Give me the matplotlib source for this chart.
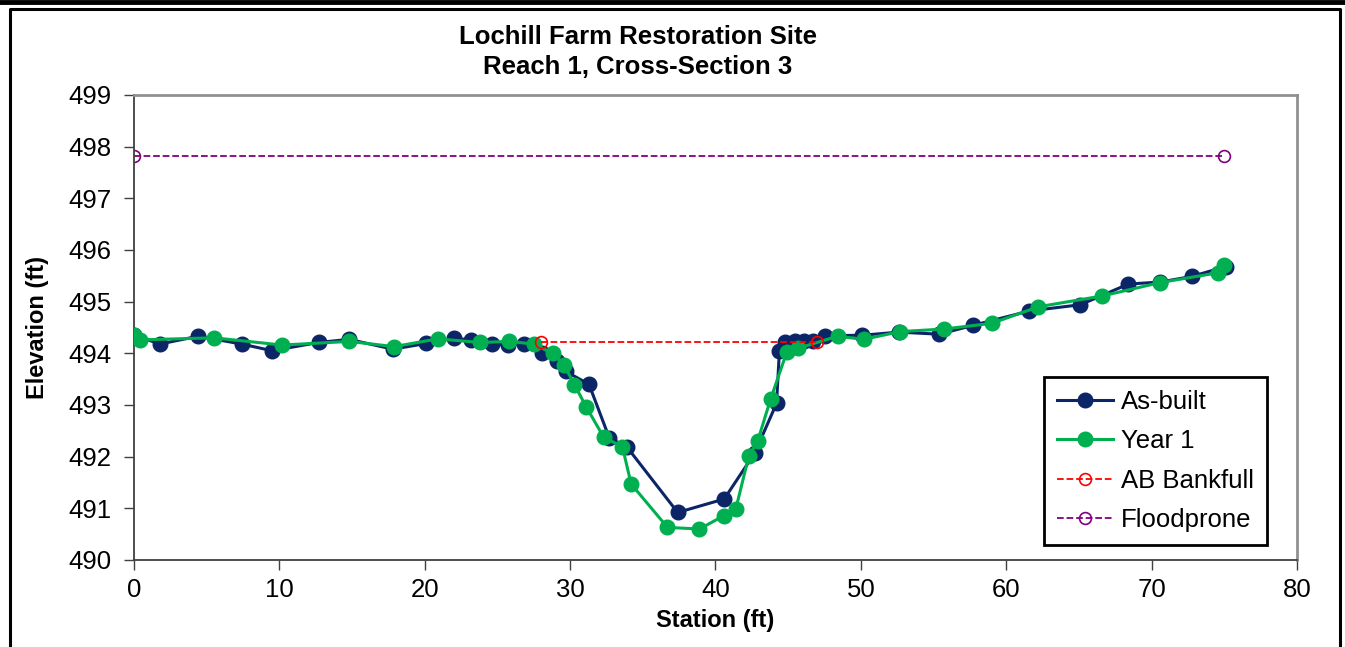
import matplotlib
matplotlib.use("Agg")
import matplotlib.pyplot as plt
from matplotlib.lines import Line2D

# --- Datos ---
est_asbuilt = [0.0, 1.8, 4.4, 7.4, 9.5, 12.7, 14.8, 17.8, 20.1, 22.0, 23.2, 24.6, 25.7,
               26.8, 28.1, 29.1, 29.7, 31.3, 32.7, 33.9, 37.4, 40.6, 42.7, 44.2, 44.4,
               44.8, 45.5, 46.1, 46.7, 47.5, 50.1, 52.6, 55.4, 57.7, 61.6, 65.1, 68.4,
               70.6, 72.8, 75.1]
elev_asbuilt = [494.35, 494.18, 494.33, 494.18, 494.05, 494.21, 494.27, 494.08, 494.19,
                494.29, 494.26, 494.18, 494.16, 494.18, 494.00, 493.86, 493.65, 493.40,
                492.36, 492.19, 490.92, 491.18, 492.07, 493.03, 494.05, 494.22, 494.24,
                494.24, 494.24, 494.34, 494.35, 494.41, 494.37, 494.54, 494.82, 494.94,
                495.34, 495.38, 495.49, 495.68]

est_year1 = [0.0, 0.4, 5.5, 10.2, 14.8, 17.9, 20.9, 23.8, 25.8, 27.5, 28.8, 29.6, 30.3,
             31.1, 32.3, 33.6, 34.2, 36.7, 38.9, 40.6, 41.4, 42.3, 42.9, 43.8, 44.9,
             45.7, 48.4, 50.2, 52.7, 55.7, 59.0, 62.2, 66.6, 70.6, 74.6, 75.0]
elev_year1 = [494.36, 494.26, 494.30, 494.16, 494.23, 494.13, 494.28, 494.21, 494.23,
              494.18, 494.00, 493.77, 493.39, 492.97, 492.38, 492.19, 491.47, 490.63,
              490.60, 490.86, 490.99, 492.02, 492.30, 493.12, 494.02, 494.10, 494.33,
              494.27, 494.42, 494.47, 494.58, 494.90, 495.11, 495.37, 495.56, 495.70]

est_bankfull = [28.0, 47.0]
elev_bankfull = [494.21, 494.21]

est_flood = [0.0, 75.0]
elev_flood = [497.82, 497.82]

plt.rcParams['font.family'] = ['Liberation Sans', 'DejaVu Sans']

fig = plt.figure(figsize=(13.45, 6.47), dpi=100)
ax = fig.add_axes([0.0996, 0.1345, 0.8647, 0.7187])

ax.plot(est_flood, elev_flood, '--o', color='#800080', lw=1.3, ms=8.5,
        mfc='none', mew=1.2, label='Floodprone', zorder=2)
ax.plot(est_asbuilt, elev_asbuilt, '-o', color='#0B2566', lw=2.2, ms=10.5,
        label='As-built', zorder=3)
ax.plot(est_year1, elev_year1, '-o', color='#00B050', lw=2.2, ms=10.5,
        label='Year 1', zorder=4)
ax.plot(est_bankfull, elev_bankfull, '--o', color='#FF0000', lw=1.3, ms=8.5,
        mfc='none', mew=1.2, label='AB Bankfull', zorder=5)

ax.set_xlim(0, 80)
ax.set_ylim(490, 499)
ax.set_xticks(range(0, 81, 10))
ax.set_yticks(range(490, 500))
ax.tick_params(direction='out', length=7, width=1, labelsize=18.5, color='#404040')
ax.tick_params(axis='y', pad=9)
ax.tick_params(axis='x', pad=6)

for s in ['left', 'bottom']:
    ax.spines[s].set_color('#404040')
    ax.spines[s].set_linewidth(1.3)
for s in ['top', 'right']:
    ax.spines[s].set_color('#909090')
    ax.spines[s].set_linewidth(2)

ax.set_xlabel('Station (ft)', fontsize=17, fontweight='bold', labelpad=5)
ax.set_ylabel('Elevation (ft)', fontsize=17, fontweight='bold', labelpad=14)

fig.text(0.474, 0.943, 'Lochill Farm Restoration Site', ha='center', va='center',
         fontsize=18.5, fontweight='bold')
fig.text(0.474, 0.897, 'Reach 1, Cross-Section 3', ha='center', va='center',
         fontsize=18.5, fontweight='bold')

handles, labels = ax.get_legend_handles_labels()
orden = [1, 2, 3, 0]
leg = ax.legend([handles[i] for i in orden], [labels[i] for i in orden],
                loc='lower left', bbox_to_anchor=(0.7825, 0.032), borderaxespad=0,
                fontsize=18.5, fancybox=False, edgecolor='black', framealpha=1,
                borderpad=0.5, labelspacing=0.6, handlelength=2.2, handletextpad=0.3)
leg.get_frame().set_linewidth(2)

# marco exterior del gráfico
W, H = 1345, 647
fig.add_artist(Line2D([0, 1], [1 - 2 / H, 1 - 2 / H], color='black', lw=3.5,
                      transform=fig.transFigure))
fig.add_artist(Line2D([10 / W, 10 / W, 1339.5 / W, 1339.5 / W],
                      [0, 1 - 8.5 / H, 1 - 8.5 / H, 0], color='black', lw=2.2,
                      transform=fig.transFigure))

fig.savefig('out.png', dpi=100)
